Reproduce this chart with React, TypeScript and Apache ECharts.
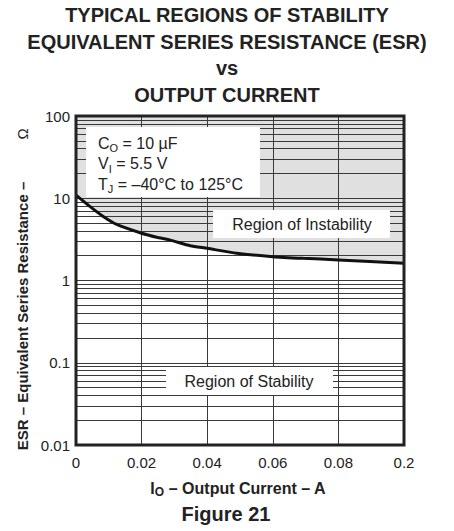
import React, { useEffect, useRef } from "react";
import * as echarts from "echarts";

// ---- data ----
const xCurrent = [0, 0.0043, 0.0083, 0.0124, 0.02, 0.0246, 0.0287, 0.0348, 0.04, 0.049, 0.06, 0.0693, 0.08, 0.1];
const esrBoundary = [10.9, 7.9, 6.0, 4.8, 3.75, 3.35, 3.1, 2.65, 2.46, 2.14, 1.95, 1.86, 1.78, 1.62];
const instabilityTop = 100;
const xTickLabels = ["0", "0.02", "0.04", "0.06", "0.08", "0.2"];
const yTickLabels = ["0.01", "0.1", "1", "10", "100"];
const xGridValues = [0.02, 0.04, 0.06, 0.08];
const yGridDecades = [0.01, 0.1, 1, 10];
const yGridMantissas = [2, 3, 4, 5, 6, 7, 8, 9, 10];

const FONT = "'Liberation Sans', Arial, Helvetica, sans-serif";
const GRID = { left: 76, top: 116, width: 328, height: 329 };

export default function App() {
  const ref = useRef<HTMLDivElement>(null);
  useEffect(() => {
    if (!ref.current) return;
    const chart = echarts.init(ref.current, undefined, { renderer: "svg" });
    const curve = xCurrent.map((x, i) => [x, esrBoundary[i]]);
    const topLine = [
      [xCurrent[0], instabilityTop],
      [xCurrent[xCurrent.length - 1], instabilityTop],
    ];
    const yGrid: number[] = [];
    yGridDecades.forEach((d) =>
      yGridMantissas.forEach((m) => {
        const v = parseFloat((d * m).toPrecision(3));
        if (v < 100) yGrid.push(v);
      })
    );
    const gridLineStyle = { color: "#3a3a3a", width: 1, type: "solid" as const };
    const sub = { fontSize: 11, lineHeight: 10, verticalAlign: "bottom" as const, fontFamily: FONT, fill: "#222" };

    chart.setOption({
      animation: false,
      backgroundColor: "#fff",
      title: {
        text: "TYPICAL REGIONS OF STABILITY\nEQUIVALENT SERIES RESISTANCE (ESR)\nvs\nOUTPUT CURRENT",
        left: "center",
        top: 2,
        padding: 0,
        textStyle: { fontSize: 20, fontWeight: "bold", lineHeight: 26.5, color: "#222", fontFamily: FONT },
      },
      grid: { ...GRID, containLabel: false },
      xAxis: {
        type: "value",
        min: 0,
        max: 0.1,
        interval: 0.02,
        axisLine: { show: false },
        axisTick: { show: false },
        splitLine: { show: false },
        axisLabel: {
          margin: 10,
          fontSize: 15,
          color: "#222",
          fontFamily: FONT,
          formatter: (_v: number, i: number) => xTickLabels[i] ?? "",
        },
      },
      yAxis: {
        type: "log",
        logBase: 10,
        min: 0.01,
        max: 100,
        axisLine: { show: false },
        axisTick: { show: false },
        splitLine: { show: false },
        minorSplitLine: { show: false },
        axisLabel: {
          margin: 6,
          fontSize: 15,
          color: "#222",
          fontFamily: FONT,
          formatter: (_v: number, i: number) => yTickLabels[i] ?? "",
        },
      },
      series: [
        {
          type: "line",
          data: topLine,
          symbol: "none",
          lineStyle: { width: 0 },
          areaStyle: { color: "#e0e0e0", origin: "start", opacity: 1 },
          z: 1,
          silent: true,
        },
        {
          type: "line",
          data: curve,
          symbol: "none",
          smooth: 0.2,
          lineStyle: { width: 0 },
          areaStyle: { color: "#ffffff", origin: "start", opacity: 1 },
          z: 2,
          silent: true,
        },
        {
          type: "line",
          data: curve,
          symbol: "none",
          lineStyle: { width: 0, opacity: 0 },
          z: 3,
          silent: true,
          markLine: {
            silent: true,
            symbol: ["none", "none"],
            label: { show: false },
            lineStyle: gridLineStyle,
            animation: false,
            data: [
              ...yGrid.map((v) => ({ yAxis: v })),
              ...xGridValues.map((v) => ({ xAxis: v })),
            ],
          },
        },
        {
          type: "line",
          data: curve,
          symbol: "none",
          smooth: 0.2,
          lineStyle: { width: 3, color: "#111" },
          z: 5,
          silent: true,
        },
      ],
      graphic: [
        {
          type: "rect",
          z: 100,
          shape: { x: GRID.left, y: GRID.top, width: GRID.width, height: GRID.height },
          style: { fill: "transparent", stroke: "#222", lineWidth: 3 },
          silent: true,
        },
        {
          type: "rect",
          z: 100,
          shape: { x: 86, y: 127, width: 174, height: 70 },
          style: { fill: "#fff" },
          silent: true,
        },
        {
          type: "text",
          z: 101,
          x: 98,
          y: 133,
          style: {
            text: "{n|C}{s|O}{n| = 10 µF}\n{n|V}{s|I}{n| = 5.5 V}\n{n|T}{s|J}{n| = –40°C to 125°C}",
            rich: {
              n: { fontSize: 16, lineHeight: 20.5, fontFamily: FONT, fill: "#222" },
              s: sub,
            },
            fill: "#222",
          },
          silent: true,
        },
        {
          type: "rect",
          z: 100,
          shape: { x: 213, y: 210, width: 177, height: 28 },
          style: { fill: "#fff" },
          silent: true,
        },
        {
          type: "text",
          z: 101,
          x: 302,
          y: 224,
          style: {
            text: "Region of Instability",
            fontSize: 16,
            fontFamily: FONT,
            fill: "#222",
            align: "center",
            verticalAlign: "middle",
          },
          silent: true,
        },
        {
          type: "rect",
          z: 100,
          shape: { x: 166, y: 367, width: 167, height: 28 },
          style: { fill: "#fff" },
          silent: true,
        },
        {
          type: "text",
          z: 101,
          x: 249,
          y: 381,
          style: {
            text: "Region of Stability",
            fontSize: 16,
            fontFamily: FONT,
            fill: "#222",
            align: "center",
            verticalAlign: "middle",
          },
          silent: true,
        },
        {
          type: "text",
          z: 101,
          x: 22,
          y: 316,
          rotation: Math.PI / 2,
          style: {
            text: "ESR – Equivalent Series Resistance –",
            fontSize: 15,
            fontWeight: "bold",
            fontFamily: FONT,
            fill: "#222",
            align: "center",
            verticalAlign: "middle",
          },
          silent: true,
        },
        {
          type: "text",
          z: 101,
          x: 22,
          y: 134,
          rotation: Math.PI / 2,
          style: {
            text: "Ω",
            fontSize: 15,
            fontFamily: FONT,
            fill: "#222",
            align: "center",
            verticalAlign: "middle",
          },
          silent: true,
        },
        {
          type: "text",
          z: 101,
          x: 238,
          y: 488,
          style: {
            text: "{b|I}{s|O}{b| – Output Current – A}",
            rich: {
              b: { fontSize: 16, fontWeight: "bold", lineHeight: 20, fontFamily: FONT, fill: "#222" },
              s: { ...sub, fontSize: 12, fontWeight: "bold" },
            },
            align: "center",
            verticalAlign: "middle",
          },
          silent: true,
        },
        {
          type: "text",
          z: 101,
          x: 226,
          y: 514,
          style: {
            text: "Figure 21",
            fontSize: 20,
            fontWeight: "bold",
            fontFamily: FONT,
            fill: "#222",
            align: "center",
            verticalAlign: "middle",
          },
          silent: true,
        },
      ],
    });
    return () => chart.dispose();
  }, []);
  return (
    <div
      ref={ref}
      style={{ position: "fixed", left: 0, top: 0, width: 454, height: 531, background: "#fff" }}
    />
  );
}
